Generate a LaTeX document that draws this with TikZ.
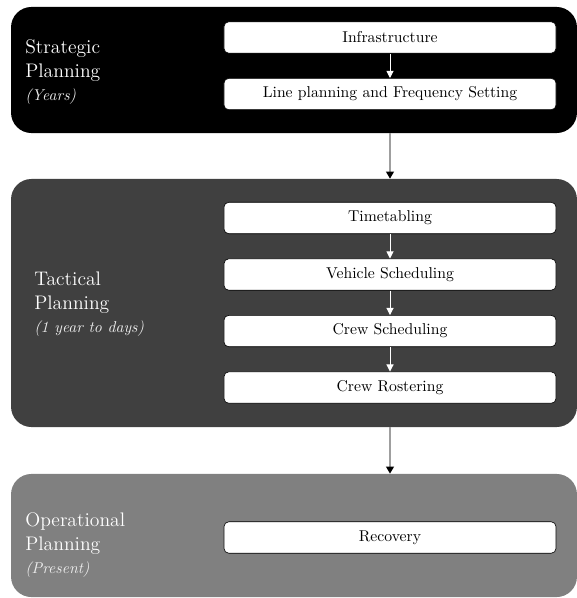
\documentclass[tikz,border=0pt]{standalone}
\usetikzlibrary{positioning,arrows.meta}
\tikzset{
  stage/.style={rounded corners=13pt,inner sep=0pt,minimum width=360.5pt},
  task/.style={draw=black,fill=white,rounded corners=3pt,minimum width=211.5pt,minimum height=20pt,inner sep=0pt},
  stagelabel/.style={text=white,align=left,anchor=west,font=\fontsize{12.5}{15.5}\selectfont,inner sep=0pt},
  flow/.style={white,line width=0.6pt,-{Triangle[width=4.5pt,length=4.5pt]}},
  link/.style={gray!75,line width=0.9pt,-{Triangle[width=5pt,length=4.5pt,black]}}
}
\newcommand{\period}[1]{{\normalsize\itshape\color{gray!15}#1}}
\begin{document}
\begin{tikzpicture}[x=0.637pt,y=-0.637pt,node distance=15.6pt]
\useasboundingbox (0,0) rectangle (577,598);
% planning levels
\node[stage,fill=black,minimum height=80.3pt](strategic) at (294,70){};
\node[stage,fill=black!75,minimum height=158pt](tactical) at (294,303){};
\node[stage,fill=black!50,minimum height=78.4pt](operational) at (294,535.5){};
\node[stagelabel](strategicLbl) at (25,72){Strategic\\Planning\\[-1pt]\period{(Years)}};
\node[stagelabel](tacticalLbl) at (34,304){Tactical\\Planning\\[-1pt]\period{(1 year to days)}};
\node[stagelabel](operationalLbl) at (25,545){Operational\\Planning\\[-1pt]\period{(Present)}};
% steps
\node[task](infra) at (390,37.5){Infrastructure};
\node[task,below=of infra](lines){Line planning and Frequency Setting};
\node[task](timetab) at (390,218){Timetabling};
\node[task,below=of timetab](vehicle){Vehicle Scheduling};
\node[task,below=of vehicle](crewSched){Crew Scheduling};
\node[task,below=of crewSched](roster){Crew Rostering};
\node[task](recovery) at (390,537.5){Recovery};
% arrows
\draw[flow](infra)--(lines);
\draw[flow](timetab)--(vehicle);
\draw[flow](vehicle)--(crewSched);
\draw[flow](crewSched)--(roster);
\draw[link](strategic.south -| lines.south)--(tactical.north -| lines.south);
\draw[link](tactical.south -| roster.south)--(operational.north -| roster.south);
\end{tikzpicture}
\end{document}
